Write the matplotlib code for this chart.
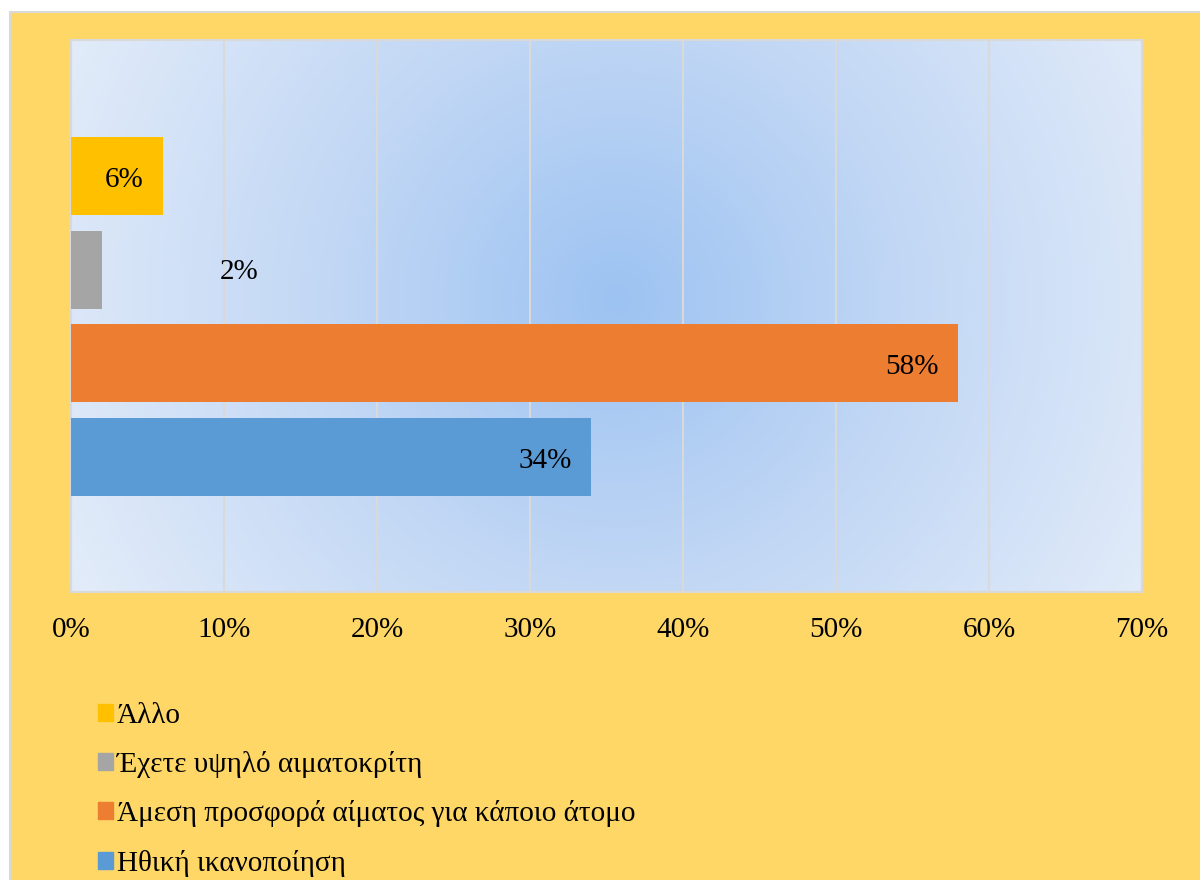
import numpy as np
import matplotlib
matplotlib.use("Agg")
import matplotlib.pyplot as plt
from matplotlib.patches import Rectangle
from matplotlib.colors import LinearSegmentedColormap
from matplotlib.ticker import PercentFormatter

plt.rcParams['font.family'] = ['Liberation Serif', 'DejaVu Serif']

# Data (bottom to top)
categories = ["Ηθική ικανοποίηση",
              "Άμεση προσφορά αίματος για κάποιο άτομο",
              "Έχετε υψηλό αιματοκρίτη",
              "Άλλο"]
values = [0.34, 0.58, 0.02, 0.06]
colors = ["#5B9BD5", "#ED7D31", "#A5A5A5", "#FFC000"]
xticks = [0, 0.1, 0.2, 0.3, 0.4, 0.5, 0.6, 0.7]

W, H = 1200, 880
FS = 21
fig = plt.figure(figsize=(W / 100, H / 100), dpi=100, facecolor="white")

# Chart area background with thin border
fig.patches.append(Rectangle((10 / W, -0.01), 1.02, (H - 12) / H + 0.01,
                             transform=fig.transFigure, facecolor="#FED766",
                             edgecolor="#D9D9D9", linewidth=1.5, zorder=-10))

ax = fig.add_axes([71 / W, (H - 592) / H, (1142 - 71) / W, (592 - 40) / H])
ax.set_facecolor("none")

# Radial gradient plot area fill
nx, ny = 400, 220
gx = np.linspace(0, 1, nx)
gy = np.linspace(0, 1, ny)
X, Y = np.meshgrid(gx, gy)
dx = (X - 0.51) * 1071
dy = (Y - 0.53) * 552
r = np.clip(np.sqrt(dx ** 2 + dy ** 2) / 600, 0, 1)
cmap = LinearSegmentedColormap.from_list("pa", ["#9DC3F2", "#C3D8F5", "#E1EBF9"])
ax.imshow(r, extent=[0, 1, 0, 1], transform=ax.transAxes, origin="lower",
          cmap=cmap, vmin=0, vmax=1, aspect="auto", zorder=0,
          interpolation="bilinear")

ypos = np.arange(len(values))
ax.barh(ypos, values, height=0.83, color=colors, zorder=3)

ax.set_xlim(0, 0.7)
ax.set_ylim(-1.44, 4.45)
ax.set_xticks(xticks)
ax.xaxis.set_major_formatter(PercentFormatter(1.0, decimals=0))
ax.set_yticks([])
ax.tick_params(axis="x", length=0, pad=18, labelsize=FS)
ax.grid(axis="x", color="#D9D9D9", linewidth=1.5, zorder=1)
ax.set_axisbelow(True)
for s in ax.spines.values():
    s.set_color("#D9D9D9")
    s.set_linewidth(1.5)

# Value labels
for y, v in zip(ypos, values):
    label = f"{v * 100:.0f}%"
    if v < 0.05:
        ax.annotate(label, xy=(v, y), xytext=(113, -2), textcoords="offset points",
                    ha="right", va="center", fontsize=FS, zorder=4)
    else:
        ax.annotate(label, xy=(v, y), xytext=(-14, -3), textcoords="offset points",
                    ha="right", va="center", fontsize=FS, zorder=4)

# Legend below the plot
handles = [Rectangle((0, 0), 1, 1, color=c) for c in colors[::-1]]
leg = fig.legend(handles, categories[::-1], loc="upper left",
                 bbox_to_anchor=(98 / W, (H - 703) / H), frameon=False,
                 borderpad=0, borderaxespad=0,
                 fontsize=FS, handlelength=0.52, handleheight=0.52,
                 handletextpad=0.12, labelspacing=0.76)

fig.savefig("out.png", dpi=100, facecolor=fig.get_facecolor())
